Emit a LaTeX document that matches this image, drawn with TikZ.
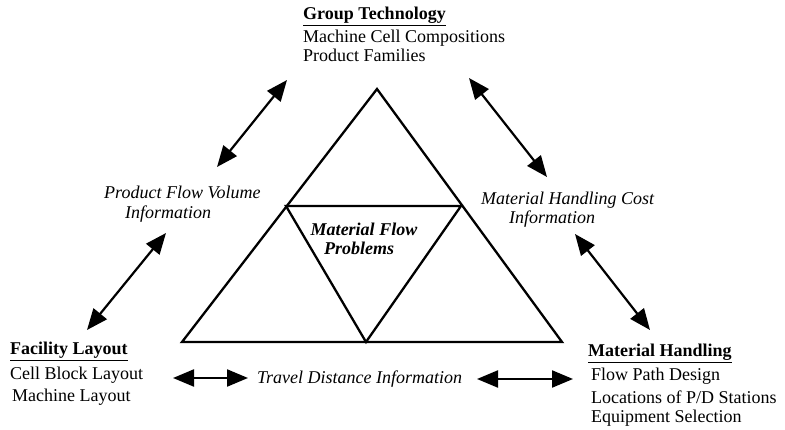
\documentclass[tikz,border=0pt]{standalone}
\usepackage{fontspec}
\setmainfont{Liberation Serif}
\usetikzlibrary{arrows.meta}
\tikzset{
  tri/.style={line width=2.3pt, line join=miter},
  link/.style={line width=2.2pt, {Triangle[length=21pt,width=17pt]}-{Triangle[length=21pt,width=17pt]}},
  txt/.style={anchor=base west, inner sep=0pt, font=\fontsize{18}{20}\selectfont},
  ttl/.style={txt, font=\fontsize{18}{20}\selectfont\bfseries},
  lab/.style={txt, font=\fontsize{18}{20}\selectfont\itshape},
  mid/.style={anchor=base, inner sep=0pt, font=\fontsize{18}{20}\selectfont\bfseries\itshape}
}
\begin{document}
\begin{tikzpicture}[x=1pt,y=-1pt]
\useasboundingbox (0,0) rectangle (785,430);
% triangle
\coordinate (A) at (377,89);
\coordinate (L) at (182,342);
\coordinate (R) at (562,342);
\coordinate (ML) at (286,206);
\coordinate (MR) at (461,206);
\coordinate (MB) at (366,342);
\draw[tri] (A) -- (R) -- (L) -- cycle;
\draw[tri] (ML) -- (MR) -- (MB) -- cycle;
% center text
\node[mid] (mf1) at (364,236) {Material Flow};
\node[mid] (mf2) at (359,255) {Problems};
% group technology
\node[ttl] (gt) at (303,20) {\underline{Group Technology}};
\node[txt] (gt1) at (303,43) {Machine Cell Compositions};
\node[txt] (gt2) at (303,62) {Product Families};
% facility layout
\node[ttl] (fl) at (10,355) {\underline{Facility Layout}};
\node[txt] (fl1) at (10,380) {Cell Block Layout};
\node[txt] (fl2) at (12,402) {Machine Layout};
% material handling
\node[ttl] (mh) at (588,357) {\underline{Material Handling}};
\node[txt] (mh1) at (591,381) {Flow Path Design};
\node[txt] (mh2) at (591,403) {Locations of P/D Stations};
\node[txt] (mh3) at (591,423) {Equipment Selection};
% italic labels
\node[lab] (pf1) at (104,199) {Product Flow Volume};
\node[lab] (pf2) at (125,219) {Information};
\node[lab] (mc1) at (481,205) {Material Handling Cost};
\node[lab] (mc2) at (509,224) {Information};
\node[lab] (td) at (257,384) {Travel Distance Information};
% arrow end points
\coordinate (a1s) at (287,80);  \coordinate (a1e) at (217,167);
\coordinate (a2s) at (469,78);  \coordinate (a2e) at (547,177);
\coordinate (a3s) at (166,233); \coordinate (a3e) at (87,330);
\coordinate (a4s) at (575,234); \coordinate (a4e) at (650,330);
\coordinate (a5s) at (173,378); \coordinate (a5e) at (248,378);
\coordinate (a6s) at (477,379); \coordinate (a6e) at (573,379);
\draw[link] (a1s) -- (a1e);
\draw[link] (a2s) -- (a2e);
\draw[link] (a3s) -- (a3e);
\draw[link] (a4s) -- (a4e);
\draw[link] (a5s) -- (a5e);
\draw[link] (a6s) -- (a6e);
\end{tikzpicture}
\end{document}
